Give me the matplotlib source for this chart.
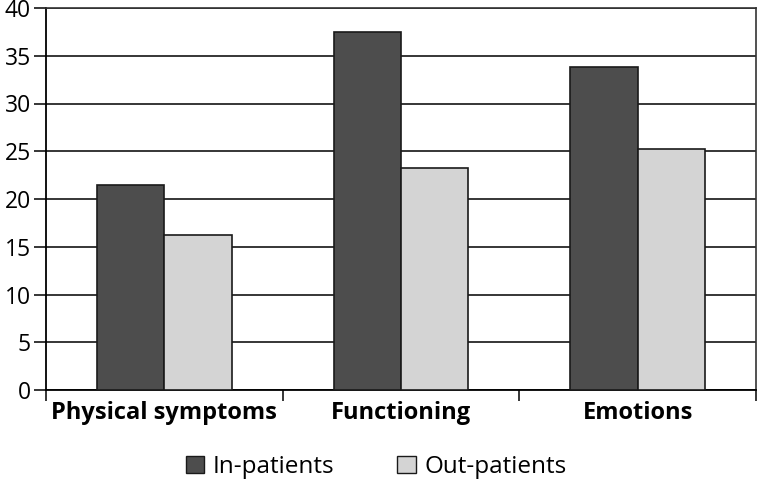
import matplotlib
matplotlib.use("Agg")
import matplotlib.pyplot as plt
import numpy as np
from matplotlib.patches import Patch

categories = ["Physical symptoms", "Functioning", "Emotions"]
in_patients = [21.5, 37.5, 33.8]
out_patients = [16.2, 23.2, 25.2]
series_names = ["In-patients", "Out-patients"]
yticks = [0, 5, 10, 15, 20, 25, 30, 35, 40]

plt.rcParams['font.family'] = ['Open Sans', 'DejaVu Sans']

fig = plt.figure(figsize=(7.58, 4.88), dpi=100)
ax = fig.add_axes([46/758, 98/488, 710/758, 382/488])

x = np.arange(len(categories))
w = 0.285
c_in = "#4d4d4d"
c_out = "#d4d4d4"
ax.set_axisbelow(True)
ax.yaxis.grid(True, color="black", linewidth=1.1)
ax.bar(x - w/2, in_patients, w, color=c_in, edgecolor="#1a1a1a", linewidth=1.2, zorder=3)
ax.bar(x + w/2, out_patients, w, color=c_out, edgecolor="#1a1a1a", linewidth=1.2, zorder=3)

ax.set_xlim(-0.5, 2.5)
ax.set_ylim(0, 40)
ax.set_yticks(yticks)
ax.set_yticklabels([str(t) for t in yticks], fontsize=16.5)
ax.tick_params(axis='y', length=9, width=1.1, pad=2)
ax.set_xticks([-0.5, 0.5, 1.5, 2.5])
ax.set_xticklabels([])
ax.tick_params(axis='x', length=8, width=1.1)
for i, c in enumerate(categories):
    ax.text(i, -1.2, c, ha='center', va='top', fontsize=17, fontweight='bold',
            transform=ax.transData)
for s in ['left', 'bottom']:
    ax.spines[s].set_linewidth(1.3)
    ax.spines[s].set_color("black")
for s in ['top', 'right']:
    ax.spines[s].set_linewidth(1.2)
    ax.spines[s].set_color("#333333")

handles = [Patch(facecolor=c_in, edgecolor="#1a1a1a", label=series_names[0]),
           Patch(facecolor=c_out, edgecolor="#1a1a1a", label=series_names[1])]
fig.legend(handles=handles, loc='center', bbox_to_anchor=(376/758, 1 - 467/488),
           ncol=2, frameon=False, fontsize=17.5, handlelength=0.75, handleheight=0.75,
           handletextpad=0.35, columnspacing=2.6)

fig.savefig("out.png", dpi=100)
